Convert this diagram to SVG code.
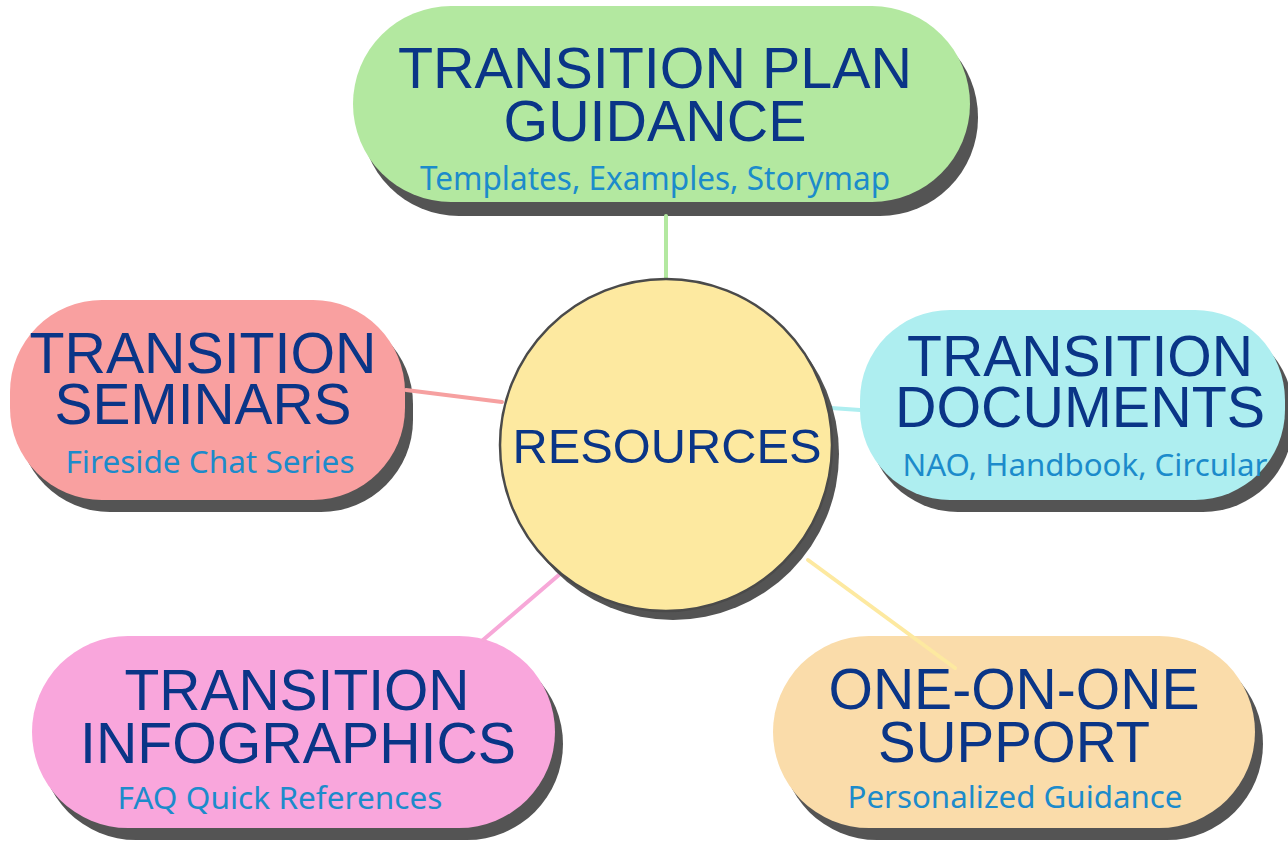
<svg xmlns="http://www.w3.org/2000/svg" width="1288" height="841" viewBox="0 0 1288 841">
<style>
.sh{fill:#545454}
.t{font-family:"Liberation Sans",Arial,sans-serif;fill:#0a3587;text-anchor:middle}
.s{font-family:"Noto Sans","Open Sans",sans-serif;fill:#1c8bcb;text-anchor:middle}
.c{fill:none;stroke-width:4;stroke-linecap:round}
</style>
<rect width="1288" height="841" fill="#ffffff"/>
<g id="node-plan">
<rect class="sh" x="361" y="19" width="617" height="197" rx="98"/>
<rect x="353" y="6" width="617" height="196" rx="98" fill="#b3e8a0"/>
<text class="t" x="655" y="88" font-size="58" textLength="514" lengthAdjust="spacingAndGlyphs">TRANSITION PLAN</text>
<text class="t" x="655" y="141" font-size="58" textLength="303" lengthAdjust="spacingAndGlyphs">GUIDANCE</text>
<text class="s" x="655" y="190" font-size="32" textLength="470" lengthAdjust="spacingAndGlyphs">Templates, Examples, Storymap</text>
</g>
<g id="node-seminars">
<rect class="sh" x="18" y="312" width="395" height="200" rx="92"/>
<rect x="10" y="300" width="395" height="200" rx="92" fill="#f9a0a0"/>
<text class="t" x="203" y="373" font-size="58" textLength="347" lengthAdjust="spacingAndGlyphs">TRANSITION</text>
<text class="t" x="203" y="424" font-size="58" textLength="297" lengthAdjust="spacingAndGlyphs">SEMINARS</text>
<text class="s" x="210" y="473" font-size="31" textLength="289" lengthAdjust="spacingAndGlyphs">Fireside Chat Series</text>
</g>
<g id="node-documents">
<rect class="sh" x="868" y="322" width="425" height="190" rx="90"/>
<rect x="860" y="310" width="425" height="190" rx="90" fill="#aeeef0"/>
<text class="t" x="1080" y="376" font-size="58" textLength="346" lengthAdjust="spacingAndGlyphs">TRANSITION</text>
<text class="t" x="1080" y="427" font-size="58" textLength="370" lengthAdjust="spacingAndGlyphs">DOCUMENTS</text>
<text class="s" x="1085" y="476" font-size="31" textLength="365" lengthAdjust="spacingAndGlyphs">NAO, Handbook, Circular</text>
</g>
<g id="node-infographics">
<rect class="sh" x="40" y="648" width="523" height="192" rx="96"/>
<rect x="32" y="636" width="523" height="192" rx="96" fill="#f9a6dc"/>
<text class="t" x="297" y="710" font-size="58" textLength="345" lengthAdjust="spacingAndGlyphs">TRANSITION</text>
<text class="t" x="298" y="763" font-size="58" textLength="436" lengthAdjust="spacingAndGlyphs">INFOGRAPHICS</text>
<text class="s" x="280" y="809" font-size="31" textLength="325" lengthAdjust="spacingAndGlyphs">FAQ Quick References</text>
</g>
<g id="node-support">
<rect class="sh" x="781" y="648" width="482" height="192" rx="96"/>
<rect x="773" y="636" width="482" height="192" rx="96" fill="#fadcaa"/>
<text class="t" x="1014" y="709" font-size="58" textLength="371" lengthAdjust="spacingAndGlyphs">ONE-ON-ONE</text>
<text class="t" x="1014" y="762" font-size="58" textLength="272" lengthAdjust="spacingAndGlyphs">SUPPORT</text>
<text class="s" x="1015" y="808" font-size="31" textLength="335" lengthAdjust="spacingAndGlyphs">Personalized Guidance</text>
</g>
<g id="connectors">
<line class="c" x1="666" y1="216" x2="666" y2="278" stroke="#b3e8a0"/>
<line class="c" x1="406" y1="390" x2="502" y2="402" stroke="#f6a0a0"/>
<line class="c" x1="831" y1="408" x2="860" y2="410" stroke="#aeeef0"/>
<line class="c" x1="483" y1="640" x2="560" y2="574" stroke="#f7a8d8"/>
<line class="c" x1="808" y1="560" x2="955" y2="668" stroke="#fde9a0"/>
</g>
<g id="node-resources">
<circle cx="673" cy="454" r="166" fill="#545454"/>
<circle cx="666" cy="445" r="166" fill="#fde9a0" stroke="#4a4a4a" stroke-width="2.5"/>
<text class="t" x="667" y="463" font-size="48" textLength="309" lengthAdjust="spacingAndGlyphs">RESOURCES</text>
</g>
</svg>
